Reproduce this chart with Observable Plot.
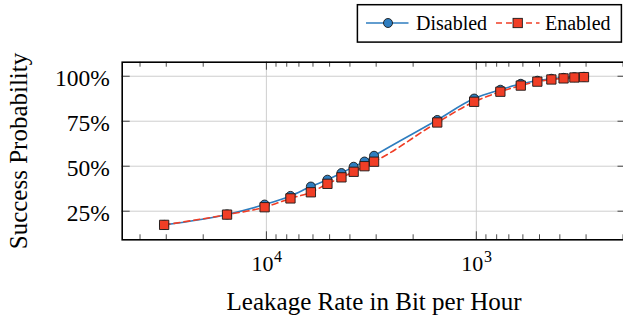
<!DOCTYPE html>
<html><head><meta charset="utf-8">
<script src="https://cdn.jsdelivr.net/npm/d3@7"></script>
<script src="https://cdn.jsdelivr.net/npm/@observablehq/plot@0.6"></script>
<style>
html,body{margin:0;padding:0;background:#fff;}
#wrap{position:relative;width:623px;height:320px;overflow:hidden;}
#wrap svg{display:block;}
</style></head><body><div id="wrap"></div>
<script>
// ---- data ----
const rates = [30700, 15400, 10200, 7680, 6140, 5120, 4390, 3840, 3410, 3070, 1535, 1024, 768, 614, 512, 439, 384, 341, 307];
const disabled = [17.4, 23.2, 28.7, 33.5, 38.7, 42.5, 46.2, 49.7, 52.6, 55.8, 75.7, 87.6, 92.5, 95.8, 97.5, 98.6, 99.1, 99.5, 99.7];
const enabled  = [17.4, 23.1, 27.2, 32.1, 35.5, 40.2, 43.8, 46.9, 50.0, 52.5, 74.3, 85.8, 91.4, 94.8, 97.0, 98.2, 98.8, 99.3, 99.5];
const seriesNames = ["Disabled", "Enabled"];
const seriesColors = ["#2e7dbf", "#f03e26"];
const yTicks = [0.25, 0.5, 0.75, 1.0];
const yTickLabels = ["25%", "50%", "75%", "100%"];
const xMajor = [1e4, 1e3];
const xMajorBase = "10";
const xMajorExp = ["4", "3"];
const xMinor = [40000, 30000, 20000, 9000, 8000, 7000, 6000, 5000, 4000, 3000, 2000, 900, 800, 700, 600, 500, 400, 300, 200];
const xLabel = "Leakage Rate in Bit per Hour";
const yLabel = "Success Probability";

// ---- layout ----
const W = 623, H = 320, mL = 121.7, mT = 61.7, mB = 80.7, mR = -2.5;
const plotH = H - mT - mB, plotW = W - mL - mR;
const serif = "'Liberation Serif', 'Times New Roman', serif";

const dis = rates.map((r, i) => ({rate: r, p: disabled[i] / 100}));
const en = rates.map((r, i) => ({rate: r, p: enabled[i] / 100}));

const chart = Plot.plot({
  width: W, height: H,
  marginLeft: mL, marginRight: mR, marginTop: mT, marginBottom: mB,
  style: {fontFamily: serif, background: "white", overflow: "hidden", color: "black"},
  x: {type: "log", domain: [48640, 193.6], axis: null},
  y: {domain: [0.091, 1.078], axis: null},
  marks: [
    Plot.ruleX(xMajor, {x: d => d, stroke: "#c8c8c8", strokeWidth: 0.9}),
    Plot.ruleY(yTicks, {y: d => d, stroke: "#c8c8c8", strokeWidth: 0.9}),
    // ticks (inward)
    Plot.tickX(xMinor, {x: d => d, insetBottom: plotH - 5, stroke: "black", strokeWidth: 0.7}),
    Plot.tickX(xMinor, {x: d => d, insetTop: plotH - 5, stroke: "black", strokeWidth: 0.7}),
    Plot.tickX(xMajor, {x: d => d, insetBottom: plotH - 8, stroke: "black", strokeWidth: 0.7}),
    Plot.tickX(xMajor, {x: d => d, insetTop: plotH - 8, stroke: "black", strokeWidth: 0.7}),
    Plot.tickY(yTicks, {y: d => d, insetRight: plotW - 8, stroke: "black", strokeWidth: 0.7}),
    Plot.tickY(yTicks, {y: d => d, insetLeft: plotW - 8, stroke: "black", strokeWidth: 0.7}),
    // series
    Plot.line(dis, {x: "rate", y: "p", stroke: seriesColors[0], strokeWidth: 1.6, curve: "monotone-x"}),
    Plot.dot(dis, {x: "rate", y: "p", r: 4.5, symbol: "circle", fill: seriesColors[0], stroke: "#1a1a1a", strokeWidth: 0.9}),
    Plot.line(en, {x: "rate", y: "p", stroke: seriesColors[1], strokeWidth: 1.6, strokeDasharray: "6,4", curve: "monotone-x"}),
    Plot.dot(en, {x: "rate", y: "p", r: 5.25, symbol: "square", fill: seriesColors[1], stroke: "#1a1a1a", strokeWidth: 0.9}),
    Plot.frame({stroke: "black", strokeWidth: 1.6}),
    // y tick labels
    Plot.text(yTicks, {y: d => d, text: (d, i) => yTickLabels[i], frameAnchor: "left", textAnchor: "end", dx: -12.4, dy: 2, fontSize: 23.5, fill: "black"}),
    // x tick labels 10^k
    Plot.text(xMajor, {x: d => d, text: () => xMajorBase, frameAnchor: "bottom", textAnchor: "end", lineAnchor: "bottom", dx: 7, dy: 31.5, fontSize: 22, fill: "black"}),
    Plot.text(xMajor, {x: d => d, text: (d, i) => xMajorExp[i], frameAnchor: "bottom", textAnchor: "start", lineAnchor: "bottom", dx: 7.7, dy: 22.5, fontSize: 16, fill: "black"}),
    // axis titles
    Plot.text([xLabel], {text: d => d, frameAnchor: "bottom", textAnchor: "middle", lineAnchor: "bottom", dy: 70.5, fontSize: 25, fill: "black"}),
    Plot.text([yLabel], {text: d => d, frameAnchor: "left", textAnchor: "middle", lineAnchor: "bottom", rotate: -90, dx: -95.2, fontSize: 25, fill: "black"})
  ]
});
const wrap = document.getElementById("wrap");
wrap.appendChild(chart);

// ---- legend (overlay) ----
const leg = d3.select(wrap).append("svg")
  .attr("width", W).attr("height", 50)
  .style("position", "absolute").style("left", "0px").style("top", "0px")
  .attr("font-family", serif);
leg.append("rect").attr("x", 357.4).attr("y", 4.7).attr("width", 264).attr("height", 37.4)
  .attr("fill", "white").attr("stroke", "black").attr("stroke-width", 1.5);
const items = [
  {x1: 366, x2: 408.5, mx: 388, tx: 416, dash: null, sym: "circle"},
  {x1: 496, x2: 539.5, mx: 517.7, tx: 545, dash: "6,4", sym: "square"}
];
items.forEach((it, i) => {
  const g = leg.append("g");
  const ln = g.append("line").attr("x1", it.x1).attr("x2", it.x2).attr("y1", 23).attr("y2", 23)
    .attr("stroke", seriesColors[i]).attr("stroke-width", 1.6);
  if (it.dash) ln.attr("stroke-dasharray", it.dash);
  if (it.sym === "circle") {
    g.append("circle").attr("cx", it.mx).attr("cy", 23).attr("r", 4.5)
      .attr("fill", seriesColors[i]).attr("stroke", "#1a1a1a").attr("stroke-width", 0.9);
  } else {
    g.append("rect").attr("x", it.mx - 4.65).attr("y", 23 - 4.65).attr("width", 9.3).attr("height", 9.3)
      .attr("fill", seriesColors[i]).attr("stroke", "#1a1a1a").attr("stroke-width", 0.9);
  }
  g.append("text").attr("x", it.tx).attr("y", 29.6).attr("font-size", 20).attr("fill", "black").text(seriesNames[i]);
});
</script>
</body></html>
